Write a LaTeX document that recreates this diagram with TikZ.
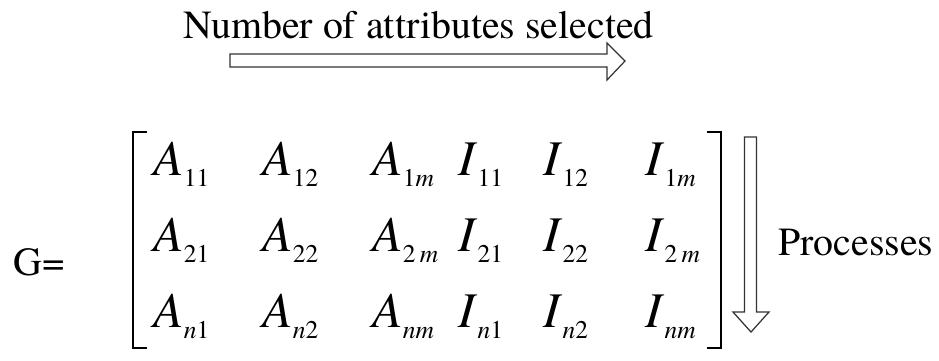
\documentclass[tikz,border=0pt]{standalone}
\usepackage{fontspec}
\setmainfont{texgyretermes}[
    Extension=.otf,
    UprightFont=*-regular,
    ItalicFont=*-italic,
    BoldFont=*-bold]
\usetikzlibrary{positioning}

% one matrix entry: italic letter with a lowered index
\newcommand{\entry}[2]{\textit{#1}\raisebox{-6.8pt}{\fontsize{14.5}{14.5}\selectfont #2}}

\begin{document}
\begin{tikzpicture}[
    x=0.02cm, y=-0.02cm,
    label/.style={inner sep=0pt, anchor=base west, font=\fontsize{22.7}{26}\selectfont},
    elem/.style={inner sep=0pt, anchor=base west, font=\fontsize{28.4}{30}\selectfont},
    hollow/.style={draw=black!80, line width=0.7pt, line join=miter},
    brack/.style={draw, line width=1.3pt}
]
\useasboundingbox (0,0) rectangle (939,360);

\node[label] (title) at (183,38) {Number of attributes selected};
\node[label] (geq) at (13,275) {G=};
\node[label] (proc) at (778,255) {Processes};

% first row
\node[elem] (a11) at (153,175) {\entry{A}{11}};
\node[elem] (a12) at (262,175) {\entry{A}{12}};
\node[elem] (a1m) at (372,175) {\entry{A}{1\textit{m}}};
\node[elem] (i11) at (458,175) {\entry{I}{11}};
\node[elem] (i12) at (543,175) {\entry{I}{12}};
\node[elem] (i1m) at (645,175) {\entry{I}{1\textit{m}}};
% second row
\node[elem] (a21) at (153,251) {\entry{A}{21}};
\node[elem] (a22) at (262,251) {\entry{A}{22}};
\node[elem] (a2m) at (372,251) {\entry{A}{2\,\textit{m}}};
\node[elem] (i21) at (458,251) {\entry{I}{21}};
\node[elem] (i22) at (543,251) {\entry{I}{22}};
\node[elem] (i2m) at (645,251) {\entry{I}{2\,\textit{m}}};
% last row
\node[elem] (an1) at (153,327) {\entry{A}{\textit{n}1}};
\node[elem] (an2) at (262,327) {\entry{A}{\textit{n}2}};
\node[elem] (anm) at (372,327) {\entry{A}{\textit{nm}}};
\node[elem] (in1) at (458,327) {\entry{I}{\textit{n}1}};
\node[elem] (in2) at (543,327) {\entry{I}{\textit{n}2}};
\node[elem] (inm) at (645,327) {\entry{I}{\textit{nm}}};

% brackets
\draw[brack] (147,132) -- (133,132) -- (133,348) -- (147,348);
\draw[brack] (707,132) -- (721,132) -- (721,348) -- (707,348);

% hollow arrows
\draw[hollow] (230,54) -- (607,54) -- (607,43) -- (625,61) -- (607,80) -- (607,67) -- (230,67) -- cycle;
\draw[hollow] (744.5,137) -- (756.5,137) -- (756.5,312) -- (769,312) -- (751,332) -- (733,312) -- (744.5,312) -- cycle;
\end{tikzpicture}
\end{document}
